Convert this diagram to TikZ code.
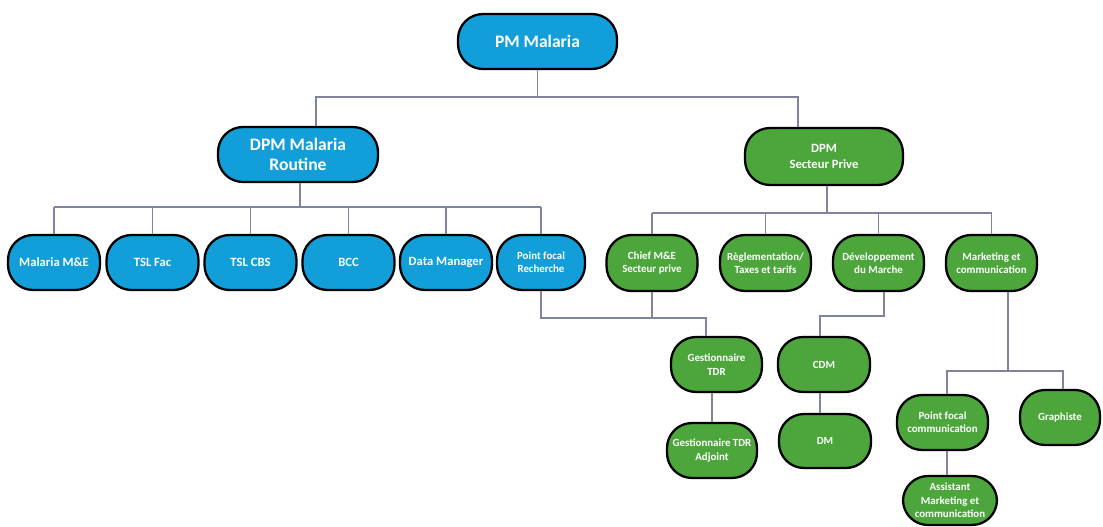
\documentclass[tikz,border=0pt]{standalone}
\usepackage{fontspec}
\setmainfont{Carlito}
\usepackage{tikz}
\usetikzlibrary{positioning}

\definecolor{pmblue}{RGB}{18,158,217}
\definecolor{pmgreen}{RGB}{76,166,60}
\definecolor{linkgray}{RGB}{128,132,158}

\tikzset{
  box/.style={draw=black, line width=1.3pt, rounded corners=0.5cm, minimum width=1.84cm, minimum height=1.1cm, inner sep=1pt, align=center, text=white},
  bluebox/.style={box, fill=pmblue},
  greenbox/.style={box, fill=pmgreen},
  bigfont/.style={font=\fontsize{10}{11}\selectfont\bfseries},
  midfont/.style={font=\fontsize{7.2}{9}\selectfont\bfseries},
  smallfont/.style={font=\fontsize{6.2}{7.6}\selectfont\bfseries},
  link/.style={draw=linkgray, line width=0.7pt},
}

\begin{document}
\begin{tikzpicture}[x=0.02cm, y=-0.02cm]
    \useasboundingbox (0,0) rectangle (1103,527);

    % Top of the chart
    \node[bluebox, bigfont, minimum width=3.18cm] (pm) at (537.5,41.5) {PM Malaria};
    \node[bluebox, bigfont, minimum width=3.2cm] (dpmr) at (298,154.5) {DPM Malaria\\Routine};
    \node[greenbox, midfont, minimum width=3.16cm, minimum height=1.14cm] (dpms) at (824,156.5) {DPM\\Secteur Prive};

    % Routine team
    \foreach \n/\x/\t in {mme/54/Malaria M\&E, tslfac/152.5/TSL Fac, tslcbs/250.5/TSL CBS, bcc/348.5/BCC, dman/446/Data Manager} {
      \node[bluebox, midfont] (\n) at (\x,262.5) {\t};
    }
    \node[bluebox, smallfont, minimum width=1.76cm] (pfr) at (541,262.5) {Point focal\\Recherche};

    % Private sector team
    \foreach \n/\x/\t in {chief/652/{Chief M\&E\\Secteur prive}, regl/765.5/{Règlementation/\\Taxes et tarifs}, dev/878.5/{Développement\\du Marche}, mkt/991.5/{Marketing et\\communication}} {
      \node[greenbox, smallfont, minimum width=1.82cm, minimum height=1.12cm] (\n) at (\x,263) {\t};
    }

    % Lower levels
    \node[greenbox, smallfont, minimum width=1.82cm] (gtdr) at (716.5,364.5) {Gestionnaire\\TDR};
    \node[greenbox, smallfont, minimum width=1.8cm] (gtdra) at (712,450.5) {Gestionnaire TDR\\Adjoint};
    \node[greenbox, smallfont] (cdm) at (824,364.5) {CDM};
    \node[greenbox, smallfont, minimum height=1.08cm] (dmn) at (825,441) {DM};
    \node[greenbox, smallfont, minimum width=1.82cm] (pfc) at (942.5,422.5) {Point focal\\communication};
    \node[greenbox, smallfont, minimum width=1.6cm] (graph) at (1060,417.5) {Graphiste};
    \node[greenbox, smallfont, minimum width=1.88cm, minimum height=0.98cm] (asst) at (950,500.5) {Assistant\\Marketing et\\communication};

    % Connectors from the top
    \coordinate (r0) at (316,97);
    \coordinate (r1) at (798,97);
    \draw[link] (pm) -- (pm |- r0);
    \draw[link] (r0 |- dpmr.north) -- (r0) -- (r1) -- (r1 |- dpms.north);

    % Routine bus
    \coordinate (b0) at (300,207);
    \draw[link] (b0 |- dpmr.south) -- (b0);
    \draw[link] (mme |- b0) -- (pfr |- b0);
    \foreach \n in {mme, tslfac, tslcbs, bcc, dman, pfr} {
      \draw[link] (\n |- b0) -- (\n.north);
    }

    % Private sector bus
    \coordinate (g0) at (827,213);
    \draw[link] (g0 |- dpms.south) -- (g0);
    \draw[link] (chief |- g0) -- (mkt |- g0);
    \foreach \n in {chief, regl, dev, mkt} {
      \draw[link] (\n |- g0) -- (\n.north);
    }

    % TDR branch
    \coordinate (c1) at (706,318);
    \draw[link] (pfr.south) |- (c1) -- (c1 |- gtdr.north);
    \draw[link] (chief.south) -- (chief |- c1);
    \draw[link] (gtdra.north |- gtdr.south) -- (gtdra.north);

    % Market branch
    \coordinate (d0) at (884,316);
    \coordinate (d1) at (820,316);
    \draw[link] (d0 |- dev.south) -- (d0) -- (d1) -- (d1 |- cdm.north);
    \draw[link] (d1 |- cdm.south) -- (d1 |- dmn.north);

    % Marketing branch
    \coordinate (m0) at (1008,371);
    \coordinate (m1) at (947,371);
    \coordinate (m2) at (1063,371);
    \draw[link] (m0 |- mkt.south) -- (m0);
    \draw[link] (m1 |- pfc.north) -- (m1) -- (m2) -- (m2 |- graph.north);
    \draw[link] (m1 |- pfc.south) -- (m1 |- asst.north);
\end{tikzpicture}
\end{document}
